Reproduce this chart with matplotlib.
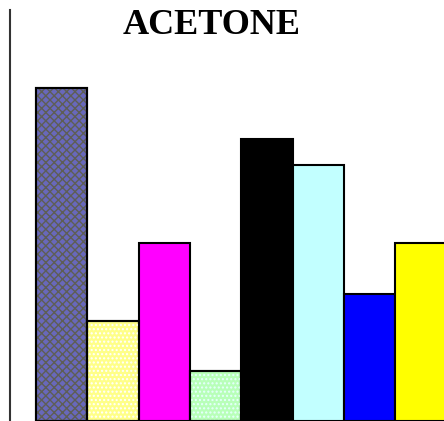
import matplotlib
matplotlib.use("Agg")
import matplotlib.pyplot as plt

# Relative acetone levels for each sample
samples = ["S1", "S2", "S3", "S4", "S5", "S6", "S7", "S8"]
values = [6.73, 2.02, 3.6, 1.0, 5.7, 5.17, 2.57, 3.6]
colors = ["#6868bb", "#ffff88", "#ff00ff", "#b8ffb8",
          "#000000", "#c2ffff", "#0000ff", "#ffff00"]
hatches = ["xxxx", "....", None, "....", None, None, None, None]
hatch_colors = ["#5e5e55", "#ffffff", None, "#e6ffff", None, None, None, None]

fig = plt.figure(figsize=(4.44, 4.21), dpi=100)
ax = fig.add_axes([10 / 444, 0, 434 / 444, 411 / 421])

x = list(range(len(samples)))
ax.bar(x, values, width=1.0, align="edge", color=colors,
       edgecolor="black", linewidth=1.5, zorder=2)
# texture overlay on the patterned bars
for xi, v, h, hc in zip(x, values, hatches, hatch_colors):
    if h:
        ax.bar(xi, v, width=1.0, align="edge", facecolor="none",
               edgecolor=hc, linewidth=0, hatch=h, zorder=3)
        ax.bar(xi, v, width=1.0, align="edge", facecolor="none",
               edgecolor="black", linewidth=1.5, zorder=4)

ax.set_xlim(-0.51, 7.95)
ax.set_ylim(0, 8.3)
ax.set_xticks([])
ax.set_yticks([])
for side in ["top", "right", "bottom"]:
    ax.spines[side].set_visible(False)
ax.spines["left"].set_linewidth(1.5)
ax.spines["left"].set_color("#333333")

fig.text(212 / 444, 1 - 26 / 421, "ACETONE", ha="center", va="center",
         fontsize=26, fontweight="bold", family="Liberation Serif")

fig.savefig("out.png", dpi=100)
